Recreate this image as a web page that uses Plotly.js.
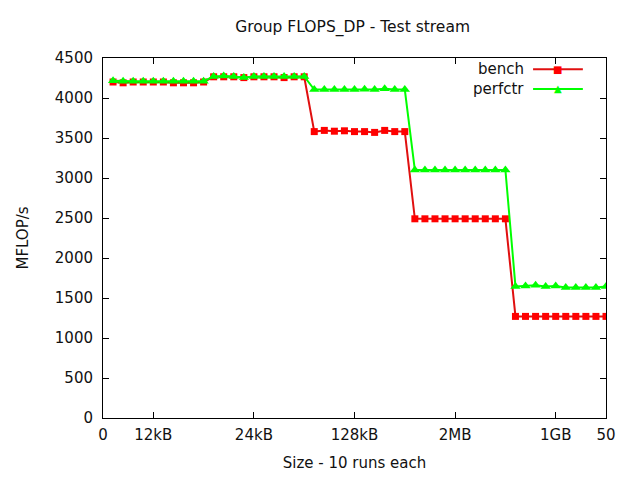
<!DOCTYPE html>
<html>
<head>
<meta charset="utf-8">
<script src="https://cdn.plot.ly/plotly-3.0.1.min.js"></script>
<style>
  body { margin: 0; background: #fff; }
  #chart { width: 640px; height: 480px; }
</style>
</head>
<body>
<div id="chart"></div>
<script>
// run index, 10 runs per size
const runs = [];
for (let i = 1; i <= 50; i++) runs.push(i);

// MFLOP/s
const bench = [
  4200, 4190, 4200, 4200, 4200, 4200, 4190, 4190, 4190, 4200,
  4265, 4265, 4265, 4255, 4265, 4265, 4265, 4255, 4265, 4265,
  3580, 3595, 3585, 3590, 3580, 3580, 3570, 3595, 3580, 3580,
  2490, 2490, 2490, 2490, 2490, 2490, 2490, 2490, 2490, 2490,
  1270, 1270, 1270, 1270, 1270, 1270, 1270, 1270, 1270, 1270
];
const perfctr = [
  4215, 4210, 4210, 4210, 4210, 4210, 4210, 4210, 4210, 4210,
  4270, 4275, 4270, 4255, 4270, 4270, 4270, 4270, 4270, 4270,
  4105, 4105, 4105, 4105, 4105, 4110, 4105, 4115, 4105, 4105,
  3100, 3100, 3100, 3100, 3100, 3100, 3100, 3100, 3100, 3100,
  1645, 1650, 1660, 1645, 1650, 1630, 1630, 1630, 1630, 1645
];

const tickPos = [0, 5, 15, 25, 35, 45, 50];
const tickText = ['0', '12kB', '24kB', '128kB', '2MB', '1GB', '50'];
const seriesNames = ['bench', 'perfctr'];

const font = 'DejaVu Sans, sans-serif';

const traces = [
  {
    x: runs, y: bench, type: 'scatter', mode: 'lines+markers', name: seriesNames[0],
    line: {color: '#e01010', width: 2},
    marker: {symbol: 'square', size: 7, color: '#ff0000'}
  },
  {
    x: runs, y: perfctr, type: 'scatter', mode: 'lines+markers', name: seriesNames[1],
    line: {color: '#00ff00', width: 2},
    marker: {symbol: 'triangle-up', size: 9, color: '#00ff00'}
  }
];

// gnuplot-style legend: text on the left, sample on the right
const legendY = [0.969, 0.914];
const legendColors = ['#e01010', '#00ff00'];
const legendGlyph = ['■', '▲'];
const shapes = [];
const annotations = [];
for (let i = 0; i < 2; i++) {
  annotations.push({
    xref: 'paper', yref: 'paper', x: 0.841, y: legendY[i],
    text: seriesNames[i], showarrow: false, xanchor: 'right', yanchor: 'middle',
    font: {family: font, size: 15, color: '#111'}
  });
  shapes.push({
    type: 'line', xref: 'paper', yref: 'paper',
    x0: 0.855, x1: 0.954, y0: legendY[i], y1: legendY[i],
    line: {color: legendColors[i], width: 2}
  });
  annotations.push({
    xref: 'paper', yref: 'paper', x: 0.9045, y: legendY[i],
    text: legendGlyph[i], showarrow: false, xanchor: 'center', yanchor: 'middle',
    font: {family: font, size: 10, color: i === 0 ? '#ff0000' : '#00ff00'}
  });
}

const layout = {
  width: 640, height: 480,
  margin: {l: 103, r: 34, t: 58, b: 62},
  paper_bgcolor: '#fff', plot_bgcolor: '#fff',
  showlegend: false,
  font: {family: font, size: 15, color: '#111'},
  title: {text: 'Group FLOPS_DP - Test stream', x: 0.551, xanchor: 'center',
          yref: 'container', y: 0.944, yanchor: 'middle',
          font: {family: font, size: 15.5}},
  xaxis: {
    range: [0, 50], tickvals: tickPos, ticktext: tickText,
    showgrid: false, zeroline: false, showline: true, mirror: 'ticks',
    linecolor: '#000', linewidth: 1, ticks: 'inside', ticklen: 6, tickcolor: '#000',
    tickfont: {size: 15}, ticklabelstandoff: 3,
    title: {text: 'Size - 10 runs each', font: {size: 15}, standoff: 14}
  },
  yaxis: {
    range: [0, 4500], dtick: 500, tick0: 0,
    showgrid: false, zeroline: false, showline: true, mirror: 'ticks',
    linecolor: '#000', linewidth: 1, ticks: 'inside', ticklen: 6, tickcolor: '#000',
    tickfont: {size: 15}, ticklabelstandoff: 6,
    title: {text: 'MFLOP/s', font: {size: 15}, standoff: 22}
  },
  shapes: shapes,
  annotations: annotations
};

Plotly.newPlot('chart', traces, layout, {staticPlot: true});
</script>
</body>
</html>
